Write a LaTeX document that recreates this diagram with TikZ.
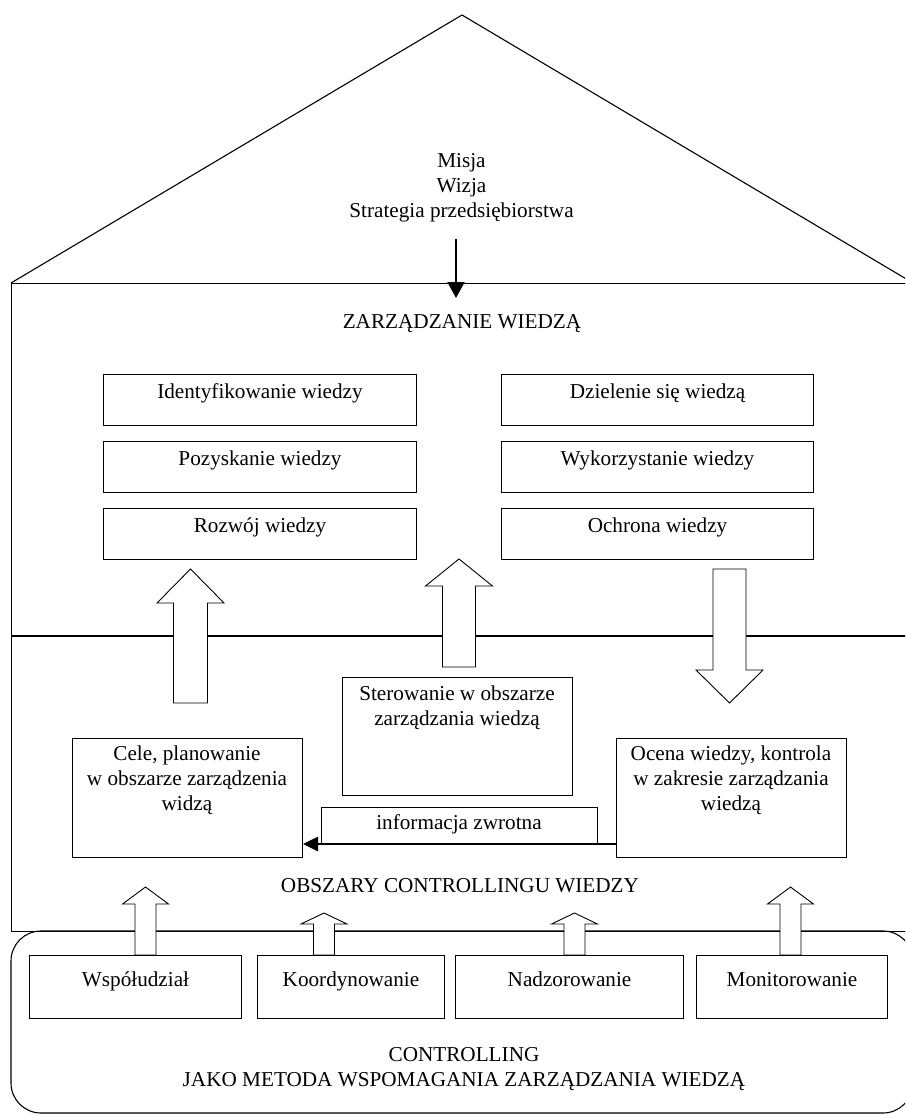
\documentclass[tikz,border=0pt]{standalone}
\usepackage{fontspec}
\setmainfont{Liberation Serif}
\usetikzlibrary{arrows.meta}
\newcommand\hollowarrow[6]{% cx, tip y, head base y, tail y, half shaft, half head
  \draw[harrow] (#1,#2) -- (#1+#6,#3) -- (#1+#5,#3) -- (#1+#5,#4) -- (#1-#5,#4) -- (#1-#5,#3) -- (#1-#6,#3) -- cycle;}
\begin{document}
\begin{tikzpicture}[x=1pt,y=-1pt,
  frame/.style={line width=1.1pt},
  box/.style={draw, line width=1pt, fill=white, inner sep=0pt, anchor=north west},
  txt/.style={inner sep=0pt, anchor=base, font=\fontsize{21.2}{25}\selectfont},
  mtxt/.style={inner sep=0pt, anchor=north, align=center, font=\fontsize{21.2}{25}\selectfont},
  harrow/.style={draw, line width=0.9pt, fill=white, line join=miter},
  solidarrow/.style={line width=2pt, -{Triangle[length=16pt,width=17pt]}},
  fbarrow/.style={line width=2.6pt, -{Triangle[length=15pt,width=14pt]}}]
\useasboundingbox (0,0) rectangle (905,1115);
\clip (0,0) rectangle (905,1115);
\fill[white] (0,0) rectangle (905,1115);
% roof
\draw[frame] (11,283) -- (462,15) -- (913,283);
% main frame
\node[box, line width=1.1pt, fill=none, minimum width=902pt, minimum height=648pt] (zw) at (11,283) {};
\draw[frame] (11,636) -- (913,636);
% bottom rounded region
\draw[frame, rounded corners=30pt] (11,931) rectangle (913,1113);
% roof texts
\node[mtxt] (misja) at (461.5,153.7) {Misja\\Wizja\\Strategia przedsiębiorstwa};
\coordinate (sa) at (456,239);
\coordinate (sb) at (456,298);
\draw[solidarrow] (sa) -- (sb);
\node[txt] (zwt) at (462,328) {ZARZĄDZANIE WIEDZĄ};
% top boxes
\node[box, minimum width=313pt, minimum height=51pt] (ident) at (103,374) {};
\node[box, minimum width=313pt, minimum height=51pt] (pozysk) at (103,441) {};
\node[box, minimum width=313pt, minimum height=51pt] (rozwoj) at (103,508) {};
\node[box, minimum width=312pt, minimum height=51pt] (dziel) at (501,374) {};
\node[box, minimum width=312pt, minimum height=51pt] (wykorz) at (501,441) {};
\node[box, minimum width=312pt, minimum height=51pt] (ochr) at (501,508) {};
\node[txt] (identt) at ([yshift=-24pt]ident.north) {Identyfikowanie wiedzy};
\node[txt] (pozyskt) at ([yshift=-24pt]pozysk.north) {Pozyskanie wiedzy};
\node[txt] (rozwojt) at ([yshift=-24pt]rozwoj.north) {Rozwój wiedzy};
\node[txt] (dzielt) at ([yshift=-24pt]dziel.north) {Dzielenie się wiedzą};
\node[txt] (wykorzt) at ([yshift=-24pt]wykorz.north) {Wykorzystanie wiedzy};
\node[txt] (ochrt) at ([yshift=-24pt]ochr.north) {Ochrona wiedzy};
% big hollow arrows
\hollowarrow{190.5}{569}{603}{703}{17}{33.5}
\hollowarrow{459}{559}{586}{667}{16.5}{33.5}
\hollowarrow{729.5}{703}{670}{569}{16.5}{33.5}
% middle boxes
\node[box, minimum width=230pt, minimum height=118pt] (ster) at (342,677) {};
\node[mtxt] (stert) at (457,685.7) {Sterowanie w obszarze\\zarządzania wiedzą};
\node[box, minimum width=230.5pt, minimum height=119pt] (cele) at (71.5,738) {};
\node[mtxt] (celet) at (187,745.7) {Cele, planowanie\\w obszarze zarządzenia\\widzą};
\node[box, minimum width=230pt, minimum height=119pt] (ocena) at (616,738) {};
\node[mtxt] (ocenat) at (731,745.7) {Ocena wiedzy, kontrola\\w zakresie zarządzania\\wiedzą};
\node[box, minimum width=276pt, minimum height=36pt] (info) at (321,807) {};
\node[txt] (infot) at (459,829) {informacja zwrotna};
\draw[fbarrow] ([yshift=14pt]ocena.south west) -- ([yshift=14pt]cele.south east);
\node[txt] (obsz) at (460,892) {OBSZARY CONTROLLINGU WIEDZY};
% small hollow arrows
\hollowarrow{145.5}{887}{904}{955}{10.5}{23}
\hollowarrow{324}{913}{924}{955}{10.5}{23}
\hollowarrow{574.5}{913}{924}{955}{10.5}{23}
\hollowarrow{790.5}{887}{904}{955}{10.5}{23}
% bottom boxes
\node[box, minimum width=212pt, minimum height=63pt] (wsp) at (29,955) {};
\node[box, minimum width=187pt, minimum height=63pt] (koord) at (257,955) {};
\node[box, minimum width=228pt, minimum height=63pt] (nadz) at (455,955) {};
\node[box, minimum width=191pt, minimum height=63pt] (monit) at (696,955) {};
\node[txt] (wspt) at ([yshift=-31pt]wsp.north) {Współudział};
\node[txt] (koordt) at ([yshift=-31pt]koord.north) {Koordynowanie};
\node[txt] (nadzt) at ([yshift=-31pt]nadz.north) {Nadzorowanie};
\node[txt] (monitt) at ([yshift=-31pt]monit.north) {Monitorowanie};
\node[mtxt] (ctrl) at (464,1047) {CONTROLLING\\JAKO METODA WSPOMAGANIA ZARZĄDZANIA WIEDZĄ};
\end{tikzpicture}
\end{document}
